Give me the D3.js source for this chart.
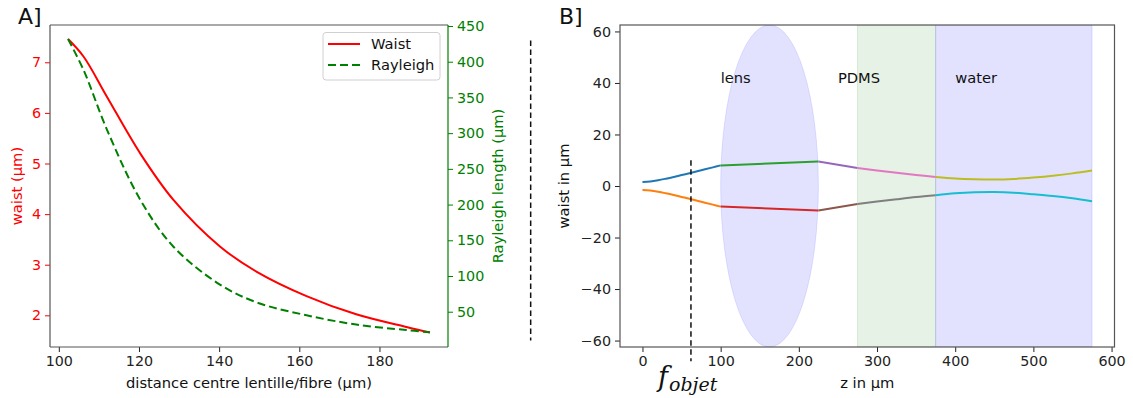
<!DOCTYPE html>
<html><head><meta charset="utf-8">
<script src="https://cdn.jsdelivr.net/npm/d3@7"></script>
<style>
body{margin:0;background:#fff;}
svg{font-family:"DejaVu Sans",sans-serif;}
</style></head>
<body>
<script>
// ---------- Panel A data ----------
const distA = [102.3, 106.2, 112.0, 120.3, 128.6, 140.2, 149.4, 161.8, 174.2, 186.7, 192.6];
const waistA = [7.46, 7.11, 6.32, 5.20, 4.28, 3.36, 2.86, 2.38, 2.02, 1.77, 1.66];
const rayleighA = [431.8, 388, 305, 207, 141, 88, 63, 45, 32, 24.3, 21.1];
const xTicksA = [100, 120, 140, 160, 180];
const yTicksWaist = [2, 3, 4, 5, 6, 7];
const yTicksRayleigh = [50, 100, 150, 200, 250, 300, 350, 400, 450];

// ---------- Panel B data ----------
const segZ = [
  [0, 10, 20, 30, 40, 50, 60, 70, 80, 90, 100],
  [100, 225],
  [225, 275],
  [275, 300, 325, 350, 375],
  [375, 400, 425, 450, 475, 500, 525, 550, 575]
];
const segTop = [
  [1.6, 1.78, 2.24, 2.85, 3.52, 4.24, 4.97, 5.72, 6.48, 7.24, 8.0],
  [8.0, 9.5],
  [9.5, 7.0],
  [7.0, 6.05, 5.15, 4.3, 3.5],
  [3.5, 2.9, 2.6, 2.5, 2.75, 3.3, 4.0, 4.9, 6.0]
];
const segBottom = [
  [-1.6, -1.78, -2.24, -2.85, -3.52, -4.24, -4.97, -5.72, -6.48, -7.24, -8.0],
  [-8.0, -9.5],
  [-9.5, -7.0],
  [-7.0, -6.05, -5.15, -4.3, -3.6],
  [-3.6, -2.85, -2.45, -2.35, -2.6, -3.2, -3.9, -4.8, -5.9]
];
const topColors = ["#1f77b4", "#2ca02c", "#9467bd", "#e377c2", "#bcbd22"];
const bottomColors = ["#ff7f0e", "#d62728", "#8c564b", "#7f7f7f", "#17becf"];
const lensCenter = [162.5, 0], lensSize = [125, 125];
const pdmsSpan = [275, 375];
const waterSpan = [375, 575];
const regionLabels = [{t:"lens", z:100, w:42}, {t:"PDMS", z:250, w:42}, {t:"water", z:400, w:42}];
const fObjetLine = {z: 62, w0: 10, w1: -68};
const sepLine = {z: -143, w0: 56.5, w1: -60};
const xTicksB = [0, 100, 200, 300, 400, 500, 600];
const yTicksB = [-60, -40, -20, 0, 20, 40, 60];

const W = 1133, H = 398;
const svg = d3.select("body").append("svg").attr("width", W).attr("height", H);
const fs = 14.3;
const fsl = 14.7;
const fmt = v => (v < 0 ? "\u2212" + Math.abs(v) : String(v));

function axisStyle(g, color) {
  g.selectAll("path.domain").remove();
  g.selectAll(".tick line").attr("stroke", color).attr("stroke-width", 1);
  g.selectAll(".tick text").attr("fill", color).style("font-size", fs + "px")
    .style("font-family", "DejaVu Sans");
}

// ================= Panel A =================
const A = {x0: 50, x1: 448, y0: 25, y1: 347};
const xA = d3.scaleLinear().domain([97.8, 197.1]).range([A.x0, A.x1]);
const yW = d3.scaleLinear().domain([1.374, 7.737]).range([A.y1, A.y0]);
const yR = d3.scaleLinear().domain([0.6, 451.4]).range([A.y1, A.y0]);

const gAx = svg.append("g").attr("transform", `translate(0,${A.y1})`)
  .call(d3.axisBottom(xA).tickValues(xTicksA).tickSize(5).tickPadding(4).tickFormat(fmt));
axisStyle(gAx, "#222");
const gAyl = svg.append("g").attr("transform", `translate(${A.x0},0)`)
  .call(d3.axisLeft(yW).tickValues(yTicksWaist).tickSize(5).tickPadding(4).tickFormat(fmt));
axisStyle(gAyl, "red");
const gAyr = svg.append("g").attr("transform", `translate(${A.x1},0)`)
  .call(d3.axisRight(yR).tickValues(yTicksRayleigh).tickSize(5).tickPadding(4).tickFormat(fmt));
axisStyle(gAyr, "green");

const dataA = distA.map((d, i) => ({x: d, w: waistA[i], r: rayleighA[i]}));
svg.append("path").datum(dataA).attr("fill", "none").attr("stroke", "red").attr("stroke-width", 2)
  .attr("d", d3.line().x(d => xA(d.x)).y(d => yW(d.w)).curve(d3.curveCatmullRom.alpha(0.5)));
svg.append("path").datum(dataA).attr("fill", "none").attr("stroke", "green").attr("stroke-width", 2)
  .attr("stroke-dasharray", "8,4")
  .attr("d", d3.line().x(d => xA(d.x)).y(d => yR(d.r)).curve(d3.curveCatmullRom.alpha(0.5)));

// spines A
svg.append("line").attr("x1", A.x0).attr("x2", A.x1).attr("y1", A.y0).attr("y2", A.y0).attr("stroke", "#555").attr("stroke-width", 1.2);
svg.append("line").attr("x1", A.x0).attr("x2", A.x1).attr("y1", A.y1).attr("y2", A.y1).attr("stroke", "#555").attr("stroke-width", 1.2);
svg.append("line").attr("x1", A.x0).attr("x2", A.x0).attr("y1", A.y0).attr("y2", A.y1).attr("stroke", "#555").attr("stroke-width", 1.2);
svg.append("line").attr("x1", A.x1).attr("x2", A.x1).attr("y1", A.y0).attr("y2", A.y1).attr("stroke", "green").attr("stroke-width", 1.2);

// legend
const leg = svg.append("g");
leg.append("rect").attr("x", 323).attr("y", 32.5).attr("width", 117).attr("height", 47.5)
  .attr("rx", 3).attr("fill", "#fff").attr("fill-opacity", 0.8).attr("stroke", "#d0d0d0").attr("stroke-width", 1);
leg.append("line").attr("x1", 328).attr("x2", 360).attr("y1", 44).attr("y2", 44).attr("stroke", "red").attr("stroke-width", 2);
leg.append("line").attr("x1", 328).attr("x2", 360).attr("y1", 65).attr("y2", 65).attr("stroke", "green").attr("stroke-width", 2).attr("stroke-dasharray", "8,4");
leg.append("text").attr("x", 371).attr("y", 44).attr("dy", "0.35em").style("font-size", fsl + "px").attr("fill", "#111").text("Waist");
leg.append("text").attr("x", 371).attr("y", 65).attr("dy", "0.35em").style("font-size", fsl + "px").attr("fill", "#111").text("Rayleigh");

// labels A
svg.append("text").attr("x", (A.x0 + A.x1) / 2).attr("y", 388).attr("text-anchor", "middle")
  .style("font-size", fsl + "px").attr("fill", "#111").text("distance centre lentille/fibre (µm)");
svg.append("text").attr("transform", `translate(22,${(A.y0 + A.y1) / 2}) rotate(-90)`).attr("text-anchor", "middle")
  .style("font-size", fsl + "px").attr("fill", "red").text("waist (µm)");
svg.append("text").attr("transform", `translate(503,${(A.y0 + A.y1) / 2}) rotate(-90)`).attr("text-anchor", "middle")
  .style("font-size", fsl + "px").attr("fill", "green").text("Rayleigh length (µm)");
svg.append("text").attr("x", 18).attr("y", 24).style("font-size", "22px").attr("fill", "#111").text("A]");

// ================= Panel B =================
const B = {x0: 620, x1: 1114.5, y0: 25, y1: 347};
const xB = d3.scaleLinear().domain([-28.75, 603.75]).range([B.x0, B.x1]);
const yB = d3.scaleLinear().domain([-62.5, 62.5]).range([B.y1, B.y0]);

svg.append("clipPath").attr("id", "clipB").append("rect")
  .attr("x", B.x0).attr("y", B.y0).attr("width", B.x1 - B.x0).attr("height", B.y1 - B.y0);
const plotB = svg.append("g").attr("clip-path", "url(#clipB)");

// regions
plotB.append("rect").attr("x", xB(pdmsSpan[0])).attr("width", xB(pdmsSpan[1]) - xB(pdmsSpan[0]))
  .attr("y", B.y0).attr("height", B.y1 - B.y0)
  .attr("fill", "green").attr("fill-opacity", 0.1).attr("stroke", "green").attr("stroke-opacity", 0.12);
plotB.append("rect").attr("x", xB(waterSpan[0])).attr("width", xB(waterSpan[1]) - xB(waterSpan[0]))
  .attr("y", B.y0).attr("height", B.y1 - B.y0)
  .attr("fill", "blue").attr("fill-opacity", 0.115).attr("stroke", "blue").attr("stroke-opacity", 0.12);
plotB.append("ellipse").attr("cx", xB(lensCenter[0])).attr("cy", yB(lensCenter[1]))
  .attr("rx", (xB(lensSize[0] / 2) - xB(0))).attr("ry", (yB(0) - yB(lensSize[1] / 2)))
  .attr("fill", "blue").attr("fill-opacity", 0.115).attr("stroke", "blue").attr("stroke-opacity", 0.1);

// curves
const lineB = d3.line().x(d => xB(d[0])).y(d => yB(d[1])).curve(d3.curveCatmullRom.alpha(0.5));
segZ.forEach((zs, i) => {
  plotB.append("path").datum(zs.map((z, j) => [z, segTop[i][j]]))
    .attr("fill", "none").attr("stroke", topColors[i]).attr("stroke-width", 2).attr("d", lineB);
  plotB.append("path").datum(zs.map((z, j) => [z, segBottom[i][j]]))
    .attr("fill", "none").attr("stroke", bottomColors[i]).attr("stroke-width", 2).attr("d", lineB);
});

// region labels
regionLabels.forEach(r => {
  svg.append("text").attr("x", xB(r.z)).attr("y", yB(r.w)).attr("dy", "0.35em")
    .style("font-size", fsl + "px").attr("fill", "#111").text(r.t);
});

// axes B
const gBx = svg.append("g").attr("transform", `translate(0,${B.y1})`)
  .call(d3.axisBottom(xB).tickValues(xTicksB).tickSize(5).tickPadding(4).tickFormat(fmt));
axisStyle(gBx, "#222");
const gBy = svg.append("g").attr("transform", `translate(${B.x0},0)`)
  .call(d3.axisLeft(yB).tickValues(yTicksB).tickSize(5).tickPadding(4).tickFormat(fmt));
axisStyle(gBy, "#222");
svg.append("rect").attr("x", B.x0).attr("y", B.y0).attr("width", B.x1 - B.x0).attr("height", B.y1 - B.y0)
  .attr("fill", "none").attr("stroke", "#555").attr("stroke-width", 1.2);

// dashed annotation lines (unclipped)
[fObjetLine, sepLine].forEach(l => {
  svg.append("line").attr("x1", xB(l.z)).attr("x2", xB(l.z)).attr("y1", yB(l.w0)).attr("y2", yB(l.w1))
    .attr("stroke", "#111").attr("stroke-width", 1.5).attr("stroke-dasharray", "5.5,3.5");
});

// labels B
svg.append("text").attr("x", (B.x0 + B.x1) / 2).attr("y", 388).attr("text-anchor", "middle")
  .style("font-size", fsl + "px").attr("fill", "#111").text("z in µm");
svg.append("text").attr("transform", `translate(569,${(B.y0 + B.y1) / 2}) rotate(-90)`).attr("text-anchor", "middle")
  .style("font-size", fsl + "px").attr("fill", "#111").text("waist in µm");
svg.append("text").attr("x", 559).attr("y", 24).style("font-size", "22px").attr("fill", "#111").text("B]");
const fo = svg.append("text").attr("x", 658).attr("y", 386).attr("fill", "#111")
  .style("font-family", "DejaVu Serif").style("font-style", "italic");
fo.append("tspan").style("font-size", "27px").text("f");
fo.append("tspan").style("font-size", "19px").attr("dy", 5).attr("dx", 1).text("objet");
</script>
</body></html>
